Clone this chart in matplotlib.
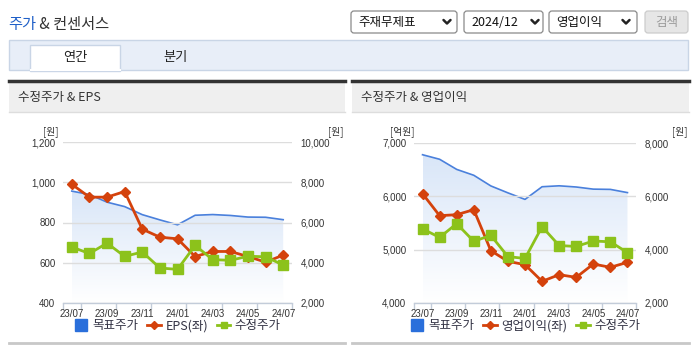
import numpy as np
import matplotlib
matplotlib.use('Agg')
import matplotlib.pyplot as plt
from matplotlib import font_manager
from matplotlib.patches import Rectangle, FancyBboxPatch
from matplotlib.lines import Line2D
from matplotlib.colors import LinearSegmentedColormap

# monthly data, 23/07 .. 24/07
months = ['23/07', '23/08', '23/09', '23/10', '23/11', '23/12', '24/01',
          '24/02', '24/03', '24/04', '24/05', '24/06', '24/07']
price = [4780, 4460, 4975, 4315, 4535, 3740, 3670, 4860, 4155, 4120, 4325, 4295, 3890]
target = [7560, 7390, 7010, 6790, 6390, 6130, 5885, 6360, 6395, 6350, 6270, 6260, 6140]
eps = [990, 926, 926, 954, 767, 727, 719, 631, 656, 656, 631, 603, 638]
op_profit = [6050, 5637, 5656, 5750, 4981, 4781, 4719, 4406, 4531, 4481, 4731, 4669, 4763]

KR = ['Noto Sans CJK KR', 'DejaVu Sans']
names = {f.name for f in font_manager.fontManager.ttflist}
NUM = 'Liberation Sans Narrow' if 'Liberation Sans Narrow' in names else 'Liberation Sans'

RED = '#d4420c'
GREEN = '#8cc21b'
BLUE = '#4a80dc'
AXIS = '#c3ccd9'

W, H = 695, 349
fig = plt.figure(figsize=(W / 100, H / 100), dpi=100)
bg = fig.add_axes([0, 0, 1, 1])
bg.set_xlim(0, W)
bg.set_ylim(H, 0)
bg.axis('off')


def rect(x0, y0, x1, y1, **kw):
    bg.add_patch(Rectangle((x0, y0), x1 - x0, y1 - y0, **kw))


# page header
t1 = bg.text(8, 25, '주가', family=KR, fontsize=11, color='#2060c8', va='center')
bg.annotate(' & 컨센서스', xy=(1, 0), xycoords=t1, va='bottom', family=KR,
            fontsize=11, color='#333333')

for (x0, x1, label, cx) in [(351, 457, '주재무제표', 447),
                            (464, 543, '2024/12', 535),
                            (549, 637, '영업이익', 626)]:
    bg.add_patch(FancyBboxPatch((x0, 11), x1 - x0, 22, boxstyle='round,pad=0,rounding_size=3',
                                facecolor='white', edgecolor='#8a8a8a', lw=0.9))
    bg.text(x0 + 7, 22.5, label, family=KR, fontsize=9, color='#111111', va='center')
    bg.plot([cx - 3.5, cx, cx + 3.5], [20, 23.5, 20], color='#222222', lw=1.8,
            solid_capstyle='round')
bg.add_patch(FancyBboxPatch((645, 11), 43, 22, boxstyle='round,pad=0,rounding_size=3',
                            facecolor='#e6e6e6', edgecolor='#cccccc', lw=0.9))
bg.text(666.5, 22.5, '검색', family=KR, fontsize=9, color='#9a9a9a', ha='center', va='center')

# tab band
rect(9, 40, 688, 70, facecolor='#e8eef8', edgecolor='#c9d5e6', lw=1)
rect(30, 45, 120, 71, facecolor='white', edgecolor='#c9d5e6', lw=1)
bg.plot([30.5, 119.5], [70, 70], color='white', lw=1.5)
bg.text(75, 57.5, '연간', family=KR, fontsize=9.5, color='#222222', ha='center', va='center')
bg.text(175, 57.5, '분기', family=KR, fontsize=9.5, color='#222222', ha='center', va='center')

# panels
for (x0, x1, title) in [(9, 345, '수정주가 & EPS'), (352, 689, '수정주가 & 영업이익')]:
    rect(x0, 82, x1, 112, facecolor='#efefef', edgecolor='none')
    bg.plot([x0, x1], [81, 81], color='#333333', lw=2.5)
    bg.plot([x0, x1], [112, 112], color='#dddddd', lw=1)
    bg.plot([x0, x1], [343, 343], color='#c8c8c8', lw=2)
    bg.text(x0 + 9, 97, title, family=KR, fontsize=9, color='#333333', va='center')


def draw_chart(x0, x1, y0, y1, left_vals, left_lim, left_step, right_lim, right_step,
               left_unit, left_name):
    x = np.arange(len(months))
    pos = [x0 / W, 1 - y1 / H, (x1 - x0) / W, (y1 - y0) / H]
    ax = fig.add_axes(pos)
    axb = ax.twinx()
    axg = ax.twinx()
    axb.set_zorder(1)
    ax.set_zorder(2)
    axg.set_zorder(3)
    for a in (ax, axb, axg):
        a.patch.set_visible(False)
        for s in ('top', 'left', 'right', 'bottom'):
            a.spines[s].set_visible(False)
    ax.spines['bottom'].set_visible(True)
    ax.spines['bottom'].set_color(AXIS)
    ax.spines['bottom'].set_linewidth(1)

    # target price area with gradient
    im = axb.imshow(np.linspace(1, 0, 256).reshape(-1, 1),
                    extent=[0, len(months) - 1, right_lim[0], max(target)],
                    aspect='auto', origin='upper', zorder=1,
                    cmap=LinearSegmentedColormap.from_list('g', ['#ffffff', '#d9e6f8']))
    poly = axb.fill_between(x, target, right_lim[0], facecolor='none', edgecolor='none')
    im.set_clip_path(poly.get_paths()[0], transform=axb.transData)
    axb.plot(x, target, color=BLUE, lw=1.2, zorder=2)

    ax.plot(x, left_vals, color=RED, lw=2, marker='D', ms=5, zorder=3)
    axg.plot(x, price, color=GREEN, lw=2, marker='s', ms=6.5, zorder=3)

    ax.set_xlim(-0.5, len(months) - 0.5)
    ax.set_ylim(*left_lim)
    axb.set_ylim(*right_lim)
    axg.set_ylim(*right_lim)

    lt = np.arange(left_lim[0], left_lim[1] + 1, left_step)
    ax.set_yticks(lt, [f'{v:,}' for v in lt])
    ax.yaxis.grid(True, color='#dddddd', lw=1)
    ax.set_axisbelow(True)
    rt = np.arange(right_lim[0], right_lim[1] + 1, right_step)
    axb.set_yticks(rt, [f'{v:,}' for v in rt])
    axg.set_yticks([])

    ax.tick_params(axis='y', length=0, pad=5.5, labelsize=7, labelcolor='#333333')
    axb.tick_params(axis='y', length=0, pad=6, labelsize=7, labelcolor='#333333')
    for lab in ax.get_yticklabels() + axb.get_yticklabels():
        lab.set_family(NUM)

    bounds = [-0.5] + [i + 0.5 for i in range(0, len(months), 2)]
    ax.set_xticks(bounds, [''] * len(bounds))
    ax.set_xticks(x[::2], months[::2], minor=True)
    ax.tick_params(axis='x', which='major', length=4, color=AXIS, width=1)
    ax.tick_params(axis='x', which='minor', length=0, pad=4, labelsize=7, labelcolor='#333333')
    for lab in ax.get_xticklabels(minor=True):
        lab.set_family(NUM)
    for a in (axb, axg):
        a.tick_params(axis='x', which='both', bottom=False, labelbottom=False)

    # units
    bg.text(x0 - 12, 132, left_unit, family=KR, fontsize=7, color='#333333',
            ha='center', va='center')
    bg.text(x1 + 44, 132, '[원]', family=KR, fontsize=7, color='#333333',
            ha='center', va='center')

    handles = [Line2D([], [], color='#2a6fdb', marker='s', ls='none', ms=8),
               Line2D([], [], color=RED, lw=2, marker='D', ms=4),
               Line2D([], [], color=GREEN, lw=2, marker='s', ms=5)]
    leg = axg.legend(handles, ['목표주가', left_name, '수정주가'], ncol=3, frameon=False,
                     loc='center', bbox_to_anchor=((x0 + x1) / 2 / W, 1 - 326 / H),
                     bbox_transform=fig.transFigure, handlelength=1.1, handletextpad=0.35,
                     columnspacing=0.7, prop={'family': KR, 'size': 9})
    for t in leg.get_texts():
        t.set_color('#333344')


draw_chart(63, 292, 142, 303, eps, (400, 1200), 200, (2000, 10000), 2000, '[원]', 'EPS(좌)')
draw_chart(414, 636, 143, 303, op_profit, (4000, 7000), 1000, (2000, 8000), 2000,
           '[억원]', '영업이익(좌)')

fig.savefig('out.png', dpi=100)
